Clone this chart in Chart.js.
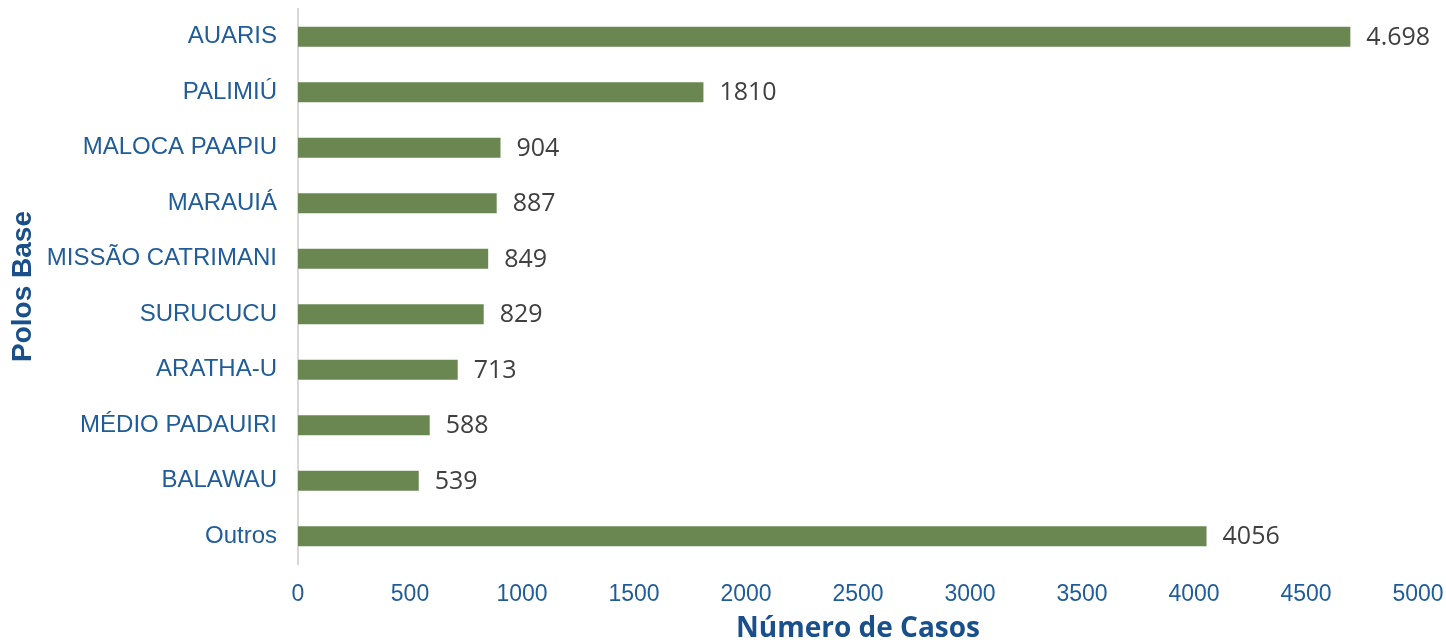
<!DOCTYPE html>
<html>
<head>
<meta charset="utf-8">
<script src="https://cdn.jsdelivr.net/npm/chart.js@4/dist/chart.umd.min.js"></script>
<style>
    body { margin: 0; background: #fff; }
    canvas { display: block; }
</style>
</head>
<body>
<canvas id="polos-chart" width="1446" height="642"></canvas>
<script>
// Data
const polos = ['AUARIS', 'PALIMIÚ', 'MALOCA PAAPIU', 'MARAUIÁ', 'MISSÃO CATRIMANI', 'SURUCUCU', 'ARATHA-U', 'MÉDIO PADAUIRI', 'BALAWAU', 'Outros'];
const casos = [4698, 1810, 904, 887, 849, 829, 713, 588, 539, 4056];
const casosLabels = ['4.698', '1810', '904', '887', '849', '829', '713', '588', '539', '4056'];
const xTicks = [0, 500, 1000, 1500, 2000, 2500, 3000, 3500, 4000, 4500, 5000];

const tickBlue = '#1f5c99';
const titleBlue = '#19508c';

const polosCanvas = document.querySelector('#polos-chart');

// value labels at the end of each bar
const barLabels = {
    id: 'barLabels',
    afterDatasetsDraw(chart) {
        const ctx = chart.ctx;
        const meta = chart.getDatasetMeta(0);
        ctx.save();
        ctx.font = '400 25px "Open Sans"';
        ctx.fillStyle = '#404040';
        ctx.textAlign = 'left';
        ctx.textBaseline = 'middle';
        meta.data.forEach((bar, i) => {
            ctx.fillText(casosLabels[i], bar.x + 16, bar.y + 1);
        });
        ctx.restore();
    }
};

const polosData = {
    labels: polos,
    datasets: [{
        data: casos,
        backgroundColor: '#6a8752',
        borderWidth: 0,
        categoryPercentage: 1,
        barPercentage: 0.36
    }]
};

const polosOptions = {
    indexAxis: 'y',
    responsive: false,
    animation: false,
    layout: {
        padding: { top: 9, right: 28, bottom: 0, left: 0 }
    },
    scales: {
        x: {
            min: 0,
            max: 5000,
            afterBuildTicks: scale => {
                scale.ticks = xTicks.map(v => ({ value: v }));
            },
            afterFit: scale => {
                scale.height = 78;
                scale.paddingLeft = 0;
                scale.paddingRight = 0;
            },
            grid: { display: false, drawTicks: false },
            border: { display: false },
            ticks: {
                padding: 17,
                color: tickBlue,
                font: { family: '"Liberation Sans", Arial, sans-serif', size: 23 },
                callback: v => String(v)
            },
            title: {
                display: true,
                text: 'Número de Casos',
                color: titleBlue,
                padding: 0,
                font: { family: '"Open Sans", sans-serif', size: 28, weight: 'bold', lineHeight: 0.9 }
            }
        },
        y: {
            afterFit: scale => {
                scale.width = 298;
                scale.paddingTop = 0;
                scale.paddingBottom = 0;
            },
            grid: { display: false, drawTicks: false },
            border: { display: true, color: '#d9d9d9', width: 2 },
            ticks: {
                padding: 21,
                color: tickBlue,
                font: { family: '"Liberation Sans", Arial, sans-serif', size: 24 }
            },
            title: {
                display: true,
                text: 'Polos Base',
                color: titleBlue,
                padding: { top: 6, bottom: 0 },
                font: { family: '"Liberation Sans", Arial, sans-serif', size: 28, weight: 'bold' }
            }
        }
    },
    plugins: {
        legend: { display: false },
        tooltip: { enabled: false }
    }
};

new Chart(polosCanvas, {
    type: 'bar',
    data: polosData,
    options: polosOptions,
    plugins: [barLabels]
});
</script>
</body>
</html>
